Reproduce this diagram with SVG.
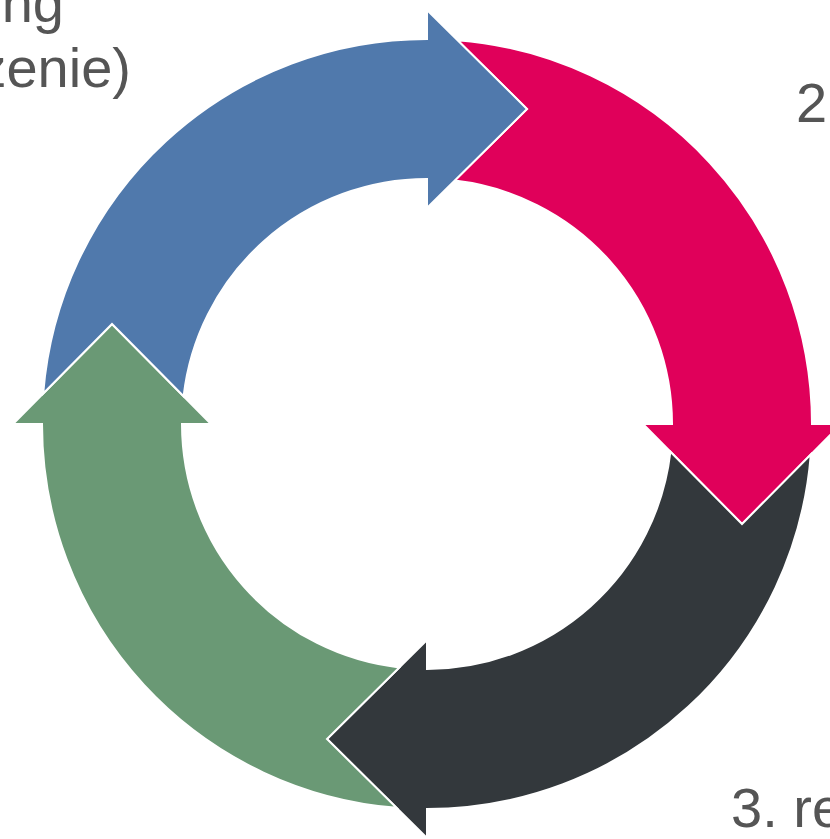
<svg xmlns="http://www.w3.org/2000/svg" width="830" height="839" viewBox="0 0 830 839">
  <style>
    .seg { stroke: #ffffff; stroke-width: 2; stroke-linejoin: miter; }
    .lbl { font-family: "Liberation Sans", Arial, sans-serif; font-size: 56px; fill: #555555; }
  </style>
  <defs>
    <path id="arrowShape" d="M 30.5 -383.8 A 385 385 0 0 1 385 0 L 414 0 L 315 100 L 216 0 L 245 0 A 245 245 0 0 0 27.7 -243.4 L 100 -315 Z"/>
  </defs>
  <rect x="0" y="0" width="830" height="839" fill="#ffffff"/>
  <g transform="translate(427 424)">
    <g id="arrow-pink"><use href="#arrowShape" class="seg" fill="#E0005A"/></g>
    <g id="arrow-dark"><use href="#arrowShape" class="seg" fill="#33383C" transform="rotate(90)"/></g>
    <g id="arrow-green"><use href="#arrowShape" class="seg" fill="#6A9975" transform="rotate(180)"/></g>
    <g id="arrow-blue"><use href="#arrowShape" class="seg" fill="#5079AC" transform="rotate(270)"/></g>
  </g>
  <g id="labels">
    <text class="lbl" x="64" y="22" text-anchor="end">ng</text>
    <text class="lbl" x="131" y="87" text-anchor="end">zenie)</text>
    <text class="lbl" x="796" y="122">2</text>
    <text class="lbl" x="731" y="827">3. re</text>
  </g>
</svg>
